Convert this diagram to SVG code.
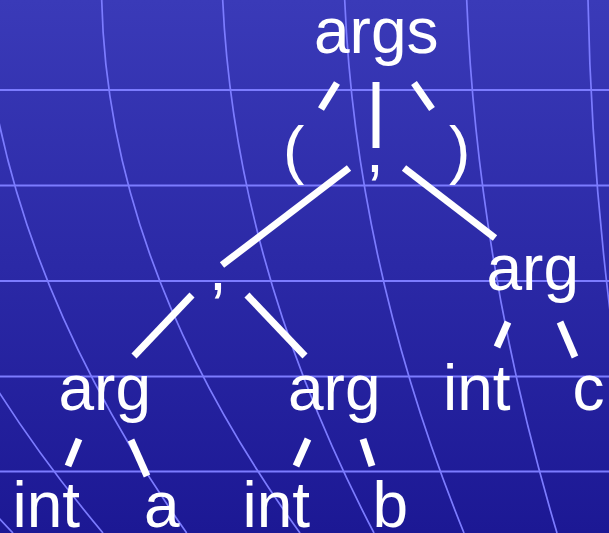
<svg xmlns="http://www.w3.org/2000/svg" width="609" height="533" viewBox="0 0 609 533">
  <defs>
    <linearGradient id="bg" x1="0" y1="0" x2="0" y2="1">
      <stop offset="0" stop-color="#3a3ab8"/>
      <stop offset="1" stop-color="#1c1894"/>
    </linearGradient>
    <style>
      .grid { fill: none; stroke: #7c7cff; }
      .h { stroke-width: 2.2; }
      .v { stroke-width: 1.7; }
      .lbl { font-family: "Liberation Sans", Arial, sans-serif; font-size: 64px; fill: #ffffff; }
      .edge { stroke: #ffffff; stroke-width: 7; fill: none; }
    </style>
  </defs>
  <rect x="0" y="0" width="609" height="533" fill="url(#bg)"/>
  <g id="grid" class="grid">
    <line class="h" x1="0" y1="90" x2="609" y2="90"/>
    <line class="h" x1="0" y1="185.5" x2="609" y2="185.5"/>
    <line class="h" x1="0" y1="281" x2="609" y2="281"/>
    <line class="h" x1="0" y1="376.5" x2="609" y2="376.5"/>
    <line class="h" x1="0" y1="471.5" x2="609" y2="471.5"/>
    <path class="v" d="M-264,0 Q-239.7,266.5 13,533"/>
    <path class="v" d="M-142,0 Q-120.5,266.5 103,533"/>
    <path class="v" d="M-18,0 Q-0.5,266.5 186.7,533"/>
    <path class="v" d="M101.7,0 Q107.7,266.5 300,533"/>
    <path class="v" d="M222.7,0 Q235,266.5 374,533"/>
    <path class="v" d="M344.7,0 Q356,266.5 464,533"/>
    <path class="v" d="M466.7,0 Q477.5,266.5 557,533"/>
    <path class="v" d="M588,0 Q593,266.5 645.5,533"/>
  </g>
  <g id="connectors" class="edge">
    <line x1="337" y1="83" x2="321" y2="109"/>
    <line x1="376" y1="82" x2="376" y2="148"/>
    <line x1="414" y1="83" x2="432" y2="109"/>
    <line x1="349" y1="168" x2="222" y2="265"/>
    <line x1="404" y1="168" x2="495" y2="238"/>
    <line x1="192" y1="295" x2="134" y2="356"/>
    <line x1="247" y1="295" x2="305" y2="356"/>
    <line x1="508" y1="322" x2="497" y2="347"/>
    <line x1="560" y1="322" x2="575" y2="357"/>
    <line x1="79" y1="439" x2="68" y2="466"/>
    <line x1="131" y1="440" x2="147" y2="476"/>
    <line x1="308" y1="439" x2="296" y2="466"/>
    <line x1="363" y1="439" x2="372" y2="466"/>
  </g>
  <g id="n-args"><text class="lbl" x="314" y="53">args</text></g>
  <g id="n-lparen"><text class="lbl" x="283" y="172">(</text></g>
  <g id="n-comma1"><text class="lbl" x="366" y="172">,</text></g>
  <g id="n-rparen"><text class="lbl" x="449" y="172">)</text></g>
  <g id="n-comma2"><text class="lbl" x="209" y="290">,</text></g>
  <g id="n-arg3"><text class="lbl" x="486.5" y="290">arg</text></g>
  <g id="n-arg1"><text class="lbl" x="58.5" y="410">arg</text></g>
  <g id="n-arg2"><text class="lbl" x="288" y="410">arg</text></g>
  <g id="n-int3"><text class="lbl" x="443" y="410">int</text></g>
  <g id="n-c"><text class="lbl" x="572.5" y="410">c</text></g>
  <g id="n-int1"><text class="lbl" x="12.5" y="527">int</text></g>
  <g id="n-a"><text class="lbl" x="144" y="527">a</text></g>
  <g id="n-int2"><text class="lbl" x="242.5" y="527">int</text></g>
  <g id="n-b"><text class="lbl" x="372.5" y="527">b</text></g>
</svg>
